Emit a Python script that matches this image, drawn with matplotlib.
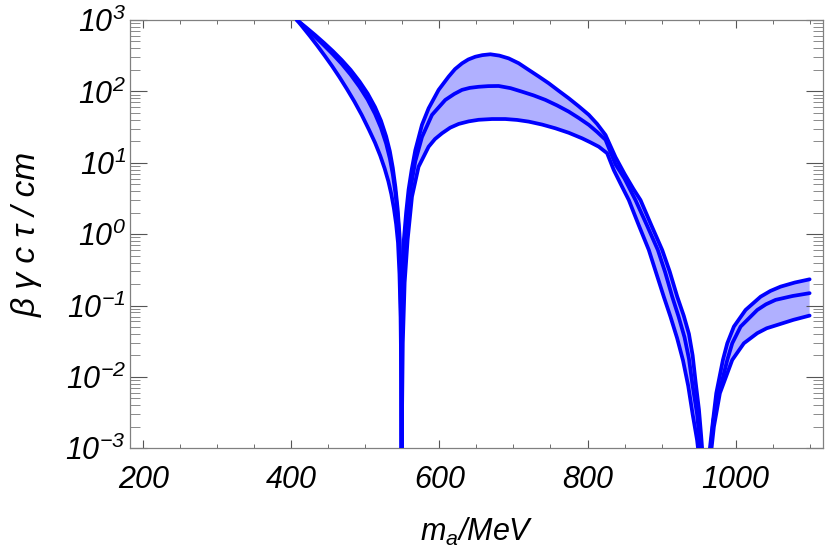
import numpy as np
import matplotlib
matplotlib.use("Agg")
import matplotlib.pyplot as plt
from matplotlib.ticker import FixedLocator, MultipleLocator, LogLocator, NullFormatter

plt.rcParams["font.family"] = ["Liberation Sans", "DejaVu Sans"]
plt.rcParams["mathtext.fontset"] = "custom"
plt.rcParams["mathtext.rm"] = "Liberation Sans:italic"
plt.rcParams["mathtext.it"] = "Liberation Sans:italic"
plt.rcParams["mathtext.default"] = "it"

# curves, three branches each (split at the eta and eta' dips)
upper_x1 = [407.5, 420, 432, 444, 456, 468, 480, 492, 503, 513, 521, 528, 533, 537,
            540.5, 543.5, 546, 547.5, 548.5, 549]
upper_y1 = [1000, 785, 617, 479, 367, 275, 200, 138, 93.3, 60.3, 38.9, 23.4, 14.5, 8.5,
            4.57, 2.29, 1.0, 0.25, 0.0275, 1e-5]
middle_x1 = upper_x1
middle_y1 = [1000, 759, 582, 442, 331, 243, 172, 116, 76.7, 48.4, 30.9, 18.6, 11.5, 6.9,
             3.8, 1.9, 0.83, 0.21, 0.022, 1e-5]
lower_x1 = [407.5, 415, 425, 435, 445, 455, 465, 475, 485, 495, 505, 513, 520, 526, 531,
            535, 538.5, 541.5, 544, 546, 547.5, 548.5, 549]
lower_y1 = [1000, 803, 596, 437, 316, 226, 158, 108, 72.4, 46.8, 28.8, 19.1, 12.6, 8.3, 5.5,
            3.63, 2.29, 1.38, 0.76, 0.275, 0.068, 0.0079, 1e-5]

upper_x2 = [549, 549.15, 549.6, 550.4, 551.9, 555, 558.3, 562.5, 567.4, 576.4, 585.4, 598.9,
            612.4, 621, 630.5, 639, 648.5, 658, 668.8, 681, 693.5, 707, 720.6, 734, 747.6,
            761, 774.7, 788, 801.7, 813, 824.3, 837.8, 850, 862, 871.6, 886, 900.9, 911,
            921.2, 930, 937, 942, 946, 950.5, 953.5, 955.5, 957]
upper_y2 = [1e-5, 0.01, 0.107, 0.32, 0.83, 2.0, 4.2, 8.0, 15, 34, 58, 105,
            161, 205, 247, 280, 306, 322, 331, 317, 290, 248, 200, 162, 130,
            102, 80, 62, 47, 35, 24.5, 12, 7.0, 4.3, 3.0, 1.35, 0.6, 0.3,
            0.133, 0.072, 0.04, 0.02, 0.0085, 0.0035, 0.0015, 0.0008, 1e-5]
middle_x2 = [549, 549.15, 549.8, 551, 553, 556, 560.6, 567.4, 576.4, 589.9, 607.9, 620, 630.5,
             641, 653, 666, 680, 696, 711.6, 727, 743.1, 759, 774.7, 788, 801.7, 813, 824.3,
             837.8, 850, 864.8, 880, 895, 905, 914.4, 923, 931, 937, 942, 948, 951.5, 953.5, 955]
middle_y2 = [1e-5, 0.0095, 0.093, 0.32, 0.83, 1.78, 4.17, 10.5, 22.9, 46.8, 75.9, 92, 105,
             112, 116, 118.5, 119, 111, 99, 88, 76, 63.5, 52, 42.5, 34, 27, 21,
             9.5, 6.0, 3.0, 1.35, 0.6, 0.29, 0.133, 0.07, 0.036, 0.018, 0.0075, 0.003, 0.0013,
             0.0007, 1e-5]
lower_x2 = [549, 549.5, 550.5, 553, 557, 562.9, 571.8, 585.4, 594, 603.5, 614.5, 626, 639.5,
            653, 671, 689, 705, 720.6, 738.6, 756.6, 774.7, 792.7, 804, 815.2, 826.5, 835.5,
            845, 855.8, 869, 882.8, 893, 903, 912, 921, 929, 936, 942, 948, 951, 953]
lower_y2 = [1e-5, 0.0033, 0.03, 0.21, 0.83, 3.35, 8.8, 16.8, 21.5, 25.9, 31, 35, 38,
            40, 41, 41, 39.8, 37.7, 34.3, 30.4, 26.3, 22, 19.3, 16.8, 13.6, 7.9,
            5.0, 3.0, 1.35, 0.6, 0.28, 0.133, 0.07, 0.035, 0.017, 0.0075, 0.003, 0.0013,
            0.0007, 1e-5]

upper_x3 = [964.5, 965.3, 968.5, 973.9, 982.9, 988.8, 997.7, 1013.5, 1033.8, 1047, 1060.8,
            1080, 1100]
upper_y3 = [1e-5, 0.001, 0.002, 0.0059, 0.0173, 0.0296, 0.0507, 0.0867, 0.133, 0.16, 0.184,
            0.21, 0.233]
middle_x3 = [965, 966.5, 970, 977.5, 988.8, 995.5, 1006.8, 1029.3, 1041, 1054, 1077, 1100]
middle_y3 = [1e-5, 0.001, 0.0025, 0.0059, 0.0173, 0.0296, 0.0507, 0.0867, 0.104, 0.12,
             0.136, 0.149]
lower_x3 = [966, 967.5, 970.7, 978.8, 995.5, 1011.2, 1029.3, 1042, 1056.4, 1078, 1100]
lower_y3 = [1e-5, 0.001, 0.002, 0.0059, 0.0173, 0.0296, 0.041, 0.048, 0.0535, 0.063, 0.0723]

x_ticks = [200, 400, 600, 800, 1000]
x_tick_labels = ["200", "400", "600", "800", "1000"]
y_ticks = [1e-3, 1e-2, 1e-1, 1e0, 1e1, 1e2, 1e3]
y_tick_labels = [r"$10^{-3}$", r"$10^{-2}$", r"$10^{-1}$", r"$10^{0}$",
                 r"$10^{1}$", r"$10^{2}$", r"$10^{3}$"]

LINE = "#0000ff"
FILL = "#b0b0ff"
FRAME = "#808080"

fig = plt.figure(figsize=(8.3, 5.51), dpi=100)
ax = fig.add_axes([0.1566, 0.1864, 0.8349, 0.7773])
ax.set_yscale("log")

branches = [
    (upper_x1, upper_y1, middle_x1, middle_y1, lower_x1, lower_y1),
    (upper_x2, upper_y2, middle_x2, middle_y2, lower_x2, lower_y2),
    (upper_x3, upper_y3, middle_x3, middle_y3, lower_x3, lower_y3),
]
for ux, uy, mx, my, lx, ly in branches:
    px = np.concatenate([ux, lx[::-1]])
    py = np.concatenate([uy, ly[::-1]])
    ax.fill(px, py, color=FILL, lw=0, zorder=1)
    for xs, ys in [(ux, uy), (mx, my), (lx, ly)]:
        ax.plot(xs, ys, color=LINE, lw=2.7, solid_joinstyle="round",
                solid_capstyle="round", zorder=3)

ax.set_xlim(182, 1118)
ax.set_ylim(1e-3, 1e3)

ax.xaxis.set_major_locator(FixedLocator(x_ticks))
ax.xaxis.set_minor_locator(MultipleLocator(50))
ax.set_xticklabels(x_tick_labels, fontstyle="italic")
ax.set_yticks(y_ticks)
ax.set_yticklabels(y_tick_labels)
ax.yaxis.set_minor_locator(LogLocator(base=10, subs=np.arange(2, 10), numticks=20))
ax.yaxis.set_minor_formatter(NullFormatter())

for s in ax.spines.values():
    s.set_color(FRAME)
    s.set_linewidth(0.9)

ax.tick_params(axis="x", which="major", direction="in", length=6, width=0.8,
               color="#555555", top=True, labelsize=22, pad=12)
ax.tick_params(axis="x", which="minor", direction="in", length=3, width=0.6,
               color="#555555", top=True)
ax.tick_params(axis="y", which="major", direction="in", length=12, width=0.8,
               color="#555555", right=True, labelsize=22, pad=3)
ax.tick_params(axis="y", which="minor", direction="in", length=7, width=0.6,
               color="#777777", right=True)

ax.set_xlabel(r"$m_a/MeV$", fontsize=22, labelpad=15)
ax.set_ylabel("β γ c τ / cm", fontsize=24, fontstyle="italic", labelpad=16)

fig.savefig("out.png", dpi=100)
